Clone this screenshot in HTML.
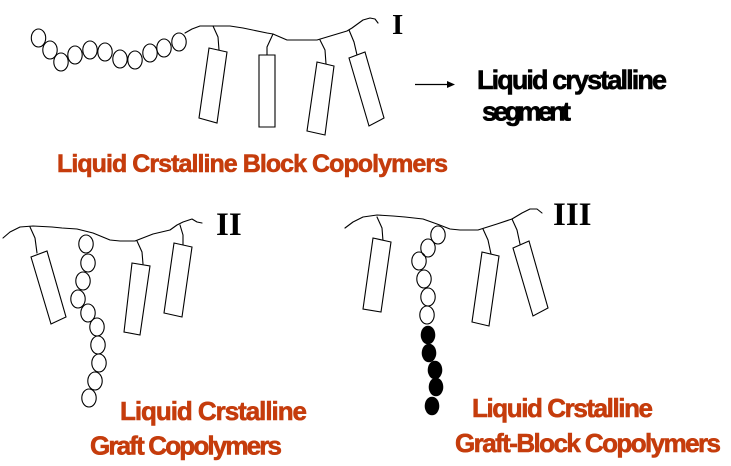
<!DOCTYPE html>
<html>
<head>
<meta charset="utf-8">
<style>
  html, body { margin: 0; padding: 0; background: #ffffff; }
  body { width: 731px; height: 466px; overflow: hidden; }
  svg { display: block; }
  .s { fill: none; stroke: #000; stroke-width: 1.1; stroke-linejoin: round; stroke-linecap: round; }
  .r { fill: #fff; stroke: #000; stroke-width: 1.1; }
  .red { font-family: "Liberation Sans", Arial, sans-serif; font-weight: bold; fill: #c53c0c; stroke: #c53c0c; stroke-width: 0.6; }
  .blk { font-family: "Liberation Sans", Arial, sans-serif; font-weight: bold; fill: #000; stroke: #000; stroke-width: 0.6; }
  .rom { font-family: "Liberation Serif", "Times New Roman", serif; font-weight: bold; fill: #000; }
</style>
</head>
<body>
<svg width="731" height="466" viewBox="0 0 731 466" xmlns="http://www.w3.org/2000/svg">
  <!-- ===== Section I ===== -->
  <polyline class="s" points="185,33 192,29 200,26 230,26 243,28 267,33 273,34 287,40 317,40 347,31 352,28 363,20 370,18 375,19 378,23"/>
  <polyline class="s" points="213,26 218,37 219,50"/>
  <polyline class="s" points="273,34 267,47 267,55"/>
  <polyline class="s" points="320,40 325,50 326,64"/>
  <polyline class="s" points="349,30 354,42 357,55"/>
  <polygon class="r" points="209,48 227,52 217,123 199,118"/>
  <polygon class="r" points="259,55 275,55 275,127 259,127"/>
  <polygon class="r" points="317,62 334,66 325,135 307,131"/>
  <polygon class="r" points="349,58 365,52 384,118 369,126"/>
  <g class="s">
    <ellipse cx="38.5" cy="38" rx="7.2" ry="9"/>
    <ellipse cx="50" cy="50" rx="7.2" ry="9"/>
    <ellipse cx="61" cy="62" rx="7.2" ry="9"/>
    <ellipse cx="75" cy="55" rx="7.2" ry="9"/>
    <ellipse cx="90" cy="50" rx="7.2" ry="9"/>
    <ellipse cx="105" cy="52" rx="7.2" ry="9"/>
    <ellipse cx="120" cy="59" rx="7.2" ry="9"/>
    <ellipse cx="135" cy="60" rx="7.2" ry="9"/>
    <ellipse cx="150" cy="53" rx="7.2" ry="9"/>
    <ellipse cx="164" cy="48" rx="7.2" ry="9"/>
    <ellipse cx="179" cy="42" rx="7.2" ry="9"/>
  </g>
  <text class="rom" x="392" y="34" font-size="29">I</text>

  <!-- arrow + legend -->
  <line x1="415" y1="84.5" x2="450" y2="84.5" stroke="#000" stroke-width="1.2"/>
  <polygon points="447,81 455,84.5 447,88" fill="#000"/>
  <text class="blk" x="477" y="89" font-size="27" textLength="190" lengthAdjust="spacing">Liquid crystalline</text>
  <text class="blk" x="482" y="120.5" font-size="27" textLength="89" lengthAdjust="spacing">segment</text>

  <text class="red" x="57" y="172" font-size="25" textLength="391" lengthAdjust="spacing">Liquid Crstalline Block Copolymers</text>

  <!-- ===== Section II ===== -->
  <polyline class="s" points="3,238 10,232 20,227 33,226 52,227 62,228 77,229 93,233 110,240 120,241 135,241 153,234 170,230 177,225 183,222 192,219 197,222 202,223"/>
  <polyline class="s" points="30,227 35,238 37,253"/>
  <polyline class="s" points="137,241 142,252 143,264"/>
  <polyline class="s" points="180,225 183,235 183,245"/>
  <polygon class="r" points="31,257 47,251 66,317 51,324"/>
  <polygon class="r" points="132,263 150,266 140,335 124,332"/>
  <polygon class="r" points="174,243 192,247 182,317 164,313"/>
  <g class="s">
    <ellipse cx="86" cy="244" rx="7.2" ry="9"/>
    <ellipse cx="88" cy="263" rx="7.2" ry="9"/>
    <ellipse cx="83" cy="281" rx="7.2" ry="9"/>
    <ellipse cx="78" cy="299" rx="7.2" ry="9"/>
    <ellipse cx="88" cy="313" rx="7.2" ry="9"/>
    <ellipse cx="97" cy="327" rx="7.2" ry="9"/>
    <ellipse cx="98" cy="345" rx="7.2" ry="9"/>
    <ellipse cx="99" cy="363" rx="7.2" ry="9"/>
    <ellipse cx="95" cy="381" rx="7.2" ry="9"/>
    <ellipse cx="89" cy="398" rx="7.2" ry="9"/>
  </g>
  <text class="rom" x="216" y="235" font-size="33">II</text>

  <text class="red" x="120" y="420" font-size="26" textLength="187" lengthAdjust="spacing">Liquid Crstalline</text>
  <text class="red" x="90" y="454.5" font-size="26" textLength="192" lengthAdjust="spacing">Graft Copolymers</text>

  <!-- ===== Section III ===== -->
  <polyline class="s" points="345,228 353,222 363,217 377,215 393,216 405,217 423,219 437,224 450,229 460,230 478,230 497,224 512,219 522,213 530,209 537,209 542,213"/>
  <polyline class="s" points="377,217 382,228 383,241"/>
  <polyline class="s" points="483,229 488,240 491,254"/>
  <polyline class="s" points="512,219 517,230 520,244"/>
  <polygon class="r" points="373,238 391,242 381,312 363,309"/>
  <polygon class="r" points="482,252 499,256 489,326 472,322"/>
  <polygon class="r" points="513,248 529,241 548,308 533,316"/>
  <g class="s">
    <ellipse cx="438" cy="235" rx="7.2" ry="9"/>
    <ellipse cx="428" cy="248" rx="7.2" ry="9"/>
    <ellipse cx="419" cy="261" rx="7.2" ry="9"/>
    <ellipse cx="424" cy="279" rx="7.2" ry="9"/>
    <ellipse cx="428" cy="297" rx="7.2" ry="9"/>
    <ellipse cx="427" cy="315" rx="7.2" ry="9"/>
  </g>
  <g fill="#000">
    <ellipse cx="428" cy="335" rx="7.3" ry="9.3"/>
    <ellipse cx="429" cy="353" rx="7.3" ry="9.3"/>
    <ellipse cx="435" cy="370" rx="7.3" ry="9.3"/>
    <ellipse cx="436" cy="387" rx="7.3" ry="9.3"/>
    <ellipse cx="432" cy="406" rx="7.3" ry="9.3"/>
  </g>
  <text class="rom" x="553" y="225" font-size="33">III</text>

  <text class="red" x="472" y="417" font-size="26" textLength="181" lengthAdjust="spacing">Liquid Crstalline</text>
  <text class="red" x="455" y="452" font-size="26" textLength="266" lengthAdjust="spacing">Graft-Block Copolymers</text>
</svg>
</body>
</html>
